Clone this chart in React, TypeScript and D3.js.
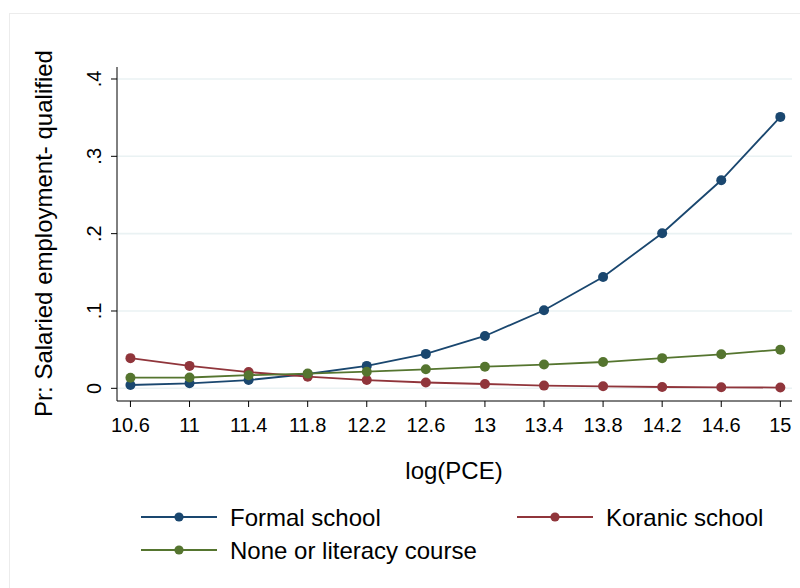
import React from "react";
import * as d3 from "d3";

const xValues = [10.6, 11, 11.4, 11.8, 12.2, 12.6, 13, 13.4, 13.8, 14.2, 14.6, 15];
const formalSchool = [0.0043, 0.0065, 0.0107, 0.0185, 0.029, 0.0445, 0.0677, 0.101, 0.144, 0.2005, 0.269, 0.351];
const koranicSchool = [0.039, 0.029, 0.021, 0.015, 0.0107, 0.0075, 0.0056, 0.0035, 0.0026, 0.0017, 0.0013, 0.001];
const noneLiteracy = [0.0137, 0.014, 0.017, 0.019, 0.0215, 0.0246, 0.028, 0.0307, 0.034, 0.039, 0.044, 0.05];
const yTicks = [0, 0.1, 0.2, 0.3, 0.4];
const yTickLabels = ["0", ".1", ".2", ".3", ".4"];
const xTickLabels = ["10.6", "11", "11.4", "11.8", "12.2", "12.6", "13", "13.4", "13.8", "14.2", "14.6", "15"];

const seriesNames = ["Formal school", "Koranic school", "None or literacy course"];
const seriesColors = ["#1a476f", "#90353b", "#55752f"];

export default function App() {
  const left = 117, right = 792, top = 67, bottom = 401;
  const x = d3.scaleLinear().domain([10.509, 15.079]).range([left, right]);
  const y = d3.scaleLinear().domain([-0.0164, 0.4155]).range([bottom, top]);
  const series = [formalSchool, koranicSchool, noneLiteracy];
  const line = d3.line<number>().x((_, i) => x(xValues[i])).y((d) => y(d));
  const font = "'Liberation Sans', Arial, Helvetica, sans-serif";

  const legendItems = [
    { idx: 0, lx: 141, ly: 517 },
    { idx: 1, lx: 517, ly: 517 },
    { idx: 2, lx: 141, ly: 550 },
  ];

  return (
    <svg width={800} height={588} style={{ position: "absolute", left: 0, top: 0, background: "#fff" }} fontFamily={font}>
      <rect x={0} y={0} width={800} height={588} fill="#fff" />
      <rect x={9.5} y={13.5} width={900} height={700} fill="none" stroke="#ececec" strokeWidth={1} />
      {yTicks.map((t) => (
        <line key={"g" + t} x1={left} x2={right} y1={y(t)} y2={y(t)} stroke="#eaf2f3" strokeWidth={1.6} />
      ))}
      <line x1={left} x2={left} y1={top} y2={bottom} stroke="#000" strokeWidth={1} />
      <line x1={left} x2={right} y1={bottom} y2={bottom} stroke="#000" strokeWidth={1} />
      {yTicks.map((t, i) => (
        <g key={"yt" + t}>
          <line x1={left - 6} x2={left} y1={y(t)} y2={y(t)} stroke="#000" strokeWidth={1} />
          <text transform={`translate(101,${y(t)}) rotate(-90)`} textAnchor="middle" fontSize={20} fill="#000">
            {yTickLabels[i]}
          </text>
        </g>
      ))}
      {xValues.map((v, i) => (
        <g key={"xt" + v}>
          <line x1={x(v)} x2={x(v)} y1={bottom} y2={bottom + 6} stroke="#000" strokeWidth={1} />
          <text x={x(v)} y={432} textAnchor="middle" fontSize={20} fill="#000">
            {xTickLabels[i]}
          </text>
        </g>
      ))}
      <text x={454} y={479} textAnchor="middle" fontSize={24} fill="#000">log(PCE)</text>
      <text transform={`translate(52,233.5) rotate(-90)`} textAnchor="middle" fontSize={24} fill="#000">
        Pr: Salaried employment- qualified
      </text>
      {series.map((s, si) => (
        <g key={"s" + si}>
          <path d={line(s) || ""} fill="none" stroke={seriesColors[si]} strokeWidth={1.8} />
          {s.map((v, i) => (
            <circle key={i} cx={x(xValues[i])} cy={y(v)} r={5} fill={seriesColors[si]} />
          ))}
        </g>
      ))}
      {legendItems.map((it) => (
        <g key={"l" + it.idx}>
          <line x1={it.lx} x2={it.lx + 76} y1={it.ly} y2={it.ly} stroke={seriesColors[it.idx]} strokeWidth={1.8} />
          <circle cx={it.lx + 38} cy={it.ly} r={4.6} fill={seriesColors[it.idx]} />
          <text x={it.lx + 89} y={it.ly + 8.7} fontSize={24} fill="#000">{seriesNames[it.idx]}</text>
        </g>
      ))}
    </svg>
  );
}
